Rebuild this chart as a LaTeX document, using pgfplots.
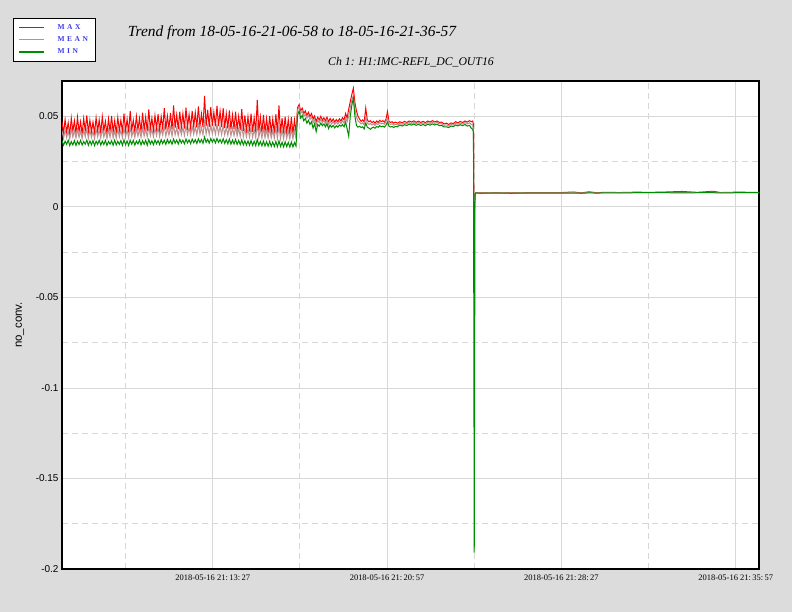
\documentclass[border=0pt]{standalone}
\usepackage{pgfplots}
\pgfplotsset{compat=1.18}
\usepackage{pgfplotstable}
\usepackage{fontspec}
\setmainfont{Liberation Serif}
\setsansfont{Liberation Sans}

\definecolor{bggray}{RGB}{220,220,220}
\definecolor{gridgray}{RGB}{215,215,215}
\definecolor{maxred}{RGB}{255,0,0}
\definecolor{meanbrown}{RGB}{188,143,143}
\definecolor{mingreen}{RGB}{0,140,0}
\definecolor{legblue}{RGB}{60,60,235}

% t = seconds after 21:06:58
\pgfplotstableread{
t max mean min
0 .0470 .0420 .0365
4 .0405 .0378 .0340
8 .0482 .0425 .0362
12 .0412 .0382 .0345
16 .0465 .0418 .0368
20 .0400 .0375 .0338
24 .0490 .0430 .0360
28 .0418 .0385 .0342
32 .0475 .0422 .0366
36 .0408 .0380 .0339
40 .0495 .0428 .0363
44 .0415 .0384 .0344
48 .0470 .0419 .0367
52 .0402 .0376 .0341
56 .0488 .0426 .0361
60 .0420 .0387 .0346
64 .0505 .0432 .0369
68 .0410 .0379 .0340
72 .0478 .0423 .0364
76 .0414 .0383 .0343
80 .0468 .0417 .0366
84 .0406 .0377 .0338
88 .0492 .0429 .0362
92 .0417 .0386 .0345
96 .0480 .0424 .0368
100 .0409 .0380 .0341
104 .0498 .0431 .0363
108 .0419 .0385 .0344
112 .0472 .0420 .0367
116 .0404 .0378 .0339
120 .0486 .0427 .0361
124 .0416 .0384 .0346
128 .0502 .0433 .0365
132 .0411 .0381 .0340
136 .0476 .0421 .0368
140 .0408 .0379 .0342
144 .0494 .0430 .0362
148 .0420 .0386 .0345
152 .0480 .0424 .0366
156 .0412 .0382 .0340
160 .0515 .0436 .0370
164 .0418 .0385 .0343
168 .0484 .0425 .0364
172 .0410 .0380 .0339
176 .0530 .0440 .0368
180 .0422 .0388 .0346
184 .0478 .0422 .0367
188 .0414 .0383 .0341
192 .0500 .0432 .0363
196 .0425 .0390 .0347
200 .0488 .0427 .0369
204 .0416 .0384 .0342
208 .0520 .0438 .0366
212 .0424 .0389 .0345
216 .0496 .0430 .0368
220 .0418 .0386 .0340
224 .0538 .0445 .0372
228 .0428 .0392 .0347
232 .0490 .0428 .0365
236 .0420 .0387 .0343
240 .0505 .0434 .0370
244 .0430 .0393 .0348
248 .0512 .0437 .0366
252 .0422 .0388 .0344
256 .0498 .0431 .0371
260 .0432 .0395 .0349
264 .0545 .0448 .0368
268 .0426 .0390 .0345
272 .0502 .0433 .0372
276 .0434 .0396 .0350
280 .0518 .0440 .0367
284 .0428 .0391 .0346
288 .0560 .0452 .0374
292 .0436 .0397 .0351
296 .0508 .0436 .0369
300 .0430 .0393 .0347
304 .0525 .0442 .0373
308 .0438 .0398 .0352
312 .0515 .0439 .0368
316 .0432 .0394 .0348
320 .0548 .0450 .0375
324 .0440 .0399 .0353
328 .0510 .0437 .0370
332 .0435 .0396 .0349
336 .0530 .0445 .0374
340 .0442 .0400 .0354
344 .0520 .0441 .0371
348 .0438 .0398 .0350
352 .0555 .0455 .0376
356 .0444 .0402 .0355
360 .0512 .0438 .0372
364 .0440 .0399 .0351
368 .0612 .0470 .0385
372 .0446 .0403 .0356
376 .0535 .0447 .0373
380 .0442 .0400 .0352
384 .0550 .0452 .0377
388 .0448 .0404 .0357
392 .0522 .0443 .0374
396 .0444 .0401 .0353
400 .0558 .0456 .0378
404 .0446 .0402 .0356
408 .0528 .0445 .0372
412 .0440 .0399 .0352
416 .0545 .0450 .0376
420 .0436 .0397 .0350
424 .0515 .0439 .0371
428 .0432 .0395 .0348
432 .0532 .0446 .0374
436 .0428 .0392 .0346
440 .0508 .0436 .0369
444 .0430 .0393 .0347
448 .0525 .0443 .0372
452 .0426 .0391 .0345
456 .0500 .0433 .0367
460 .0424 .0389 .0344
464 .0540 .0448 .0370
468 .0420 .0387 .0342
472 .0505 .0434 .0365
476 .0418 .0386 .0341
480 .0498 .0431 .0364
484 .0416 .0385 .0340
488 .0515 .0438 .0366
492 .0414 .0384 .0339
496 .0492 .0428 .0362
500 .0412 .0382 .0338
504 .0590 .0458 .0372
508 .0415 .0384 .0340
512 .0496 .0430 .0361
516 .0410 .0380 .0337
520 .0508 .0435 .0363
524 .0412 .0381 .0336
528 .0488 .0426 .0360
532 .0408 .0379 .0335
536 .0502 .0432 .0362
540 .0410 .0380 .0334
544 .0485 .0424 .0358
548 .0406 .0378 .0333
552 .0512 .0437 .0361
556 .0408 .0379 .0332
560 .0560 .0448 .0364
564 .0405 .0377 .0333
568 .0490 .0427 .0357
572 .0404 .0376 .0331
576 .0498 .0430 .0359
580 .0406 .0378 .0332
584 .0482 .0423 .0356
588 .0402 .0375 .0330
592 .0495 .0429 .0358
596 .0404 .0376 .0331
600 .0480 .0422 .0355
604 .0410 .0380 .0335
608 .0548 .0535 .0505
612 .0565 .0552 .0530
616 .0530 .0515 .0490
620 .0545 .0530 .0505
624 .0515 .0500 .0475
628 .0530 .0512 .0488
632 .0505 .0490 .0462
636 .0522 .0505 .0478
640 .0498 .0482 .0455
644 .0515 .0498 .0470
648 .0485 .0465 .0435
652 .0502 .0485 .0460
656 .0470 .0450 .0415
660 .0495 .0478 .0455
664 .0480 .0465 .0445
668 .0500 .0485 .0462
672 .0478 .0464 .0448
676 .0492 .0478 .0458
680 .0475 .0460 .0442
684 .0495 .0480 .0460
688 .0470 .0455 .0432
692 .0488 .0472 .0452
696 .0472 .0458 .0440
700 .0485 .0470 .0450
704 .0468 .0455 .0436
708 .0482 .0468 .0448
712 .0470 .0457 .0440
716 .0486 .0472 .0452
720 .0474 .0460 .0445
724 .0492 .0476 .0455
728 .0480 .0462 .0442
732 .0515 .0492 .0468
736 .0490 .0470 .0430
740 .0540 .0500 .0390
744 .0580 .0545 .0500
748 .0620 .0590 .0560
752 .0655 .0615 .0600
756 .0575 .0540 .0500
760 .0530 .0495 .0450
764 .0500 .0475 .0440
768 .0485 .0468 .0445
772 .0472 .0458 .0438
776 .0480 .0464 .0442
780 .0468 .0452 .0430
784 .0545 .0495 .0462
788 .0480 .0462 .0440
792 .0470 .0455 .0435
796 .0475 .0460 .0428
800 .0465 .0452 .0436
804 .0472 .0458 .0440
808 .0462 .0450 .0434
812 .0474 .0460 .0444
816 .0466 .0455 .0440
820 .0478 .0465 .0448
824 .0470 .0458 .0442
828 .0476 .0462 .0446
832 .0468 .0456 .0440
836 .0482 .0468 .0450
840 .0525 .0495 .0468
844 .0472 .0460 .0445
848 .0466 .0455 .0441
852 .0470 .0458 .0444
856 .0462 .0451 .0438
860 .0468 .0456 .0443
866 .0462 .0452 .0442
872 .0470 .0461 .0452
878 .0464 .0456 .0446
884 .0472 .0463 .0454
890 .0466 .0458 .0449
896 .0474 .0465 .0457
902 .0468 .0460 .0451
908 .0475 .0466 .0458
914 .0467 .0459 .0450
920 .0473 .0465 .0456
926 .0466 .0458 .0449
932 .0472 .0464 .0455
938 .0465 .0457 .0448
944 .0474 .0466 .0457
950 .0468 .0460 .0451
956 .0476 .0467 .0458
962 .0469 .0461 .0452
968 .0474 .0466 .0457
974 .0466 .0458 .0448
980 .0468 .0459 .0450
986 .0458 .0450 .0441
992 .0462 .0453 .0442
998 .0455 .0447 .0438
1004 .0463 .0455 .0446
1010 .0460 .0452 .0443
1016 .0470 .0461 .0452
1022 .0464 .0456 .0447
1028 .0472 .0463 .0454
1034 .0465 .0457 .0448
1040 .0474 .0465 .0455
1046 .0468 .0458 .0446
1052 .0476 .0464 .0450
1056 .0470 .0456 .0435
1060 .0474 .0452 .0428
1062 .0455 .0425 .0412
1063 .0005 -.0140 -.0795
1064 -.0055 -.0140 -.1910
1066 .0066 .0066 .0066
1068 .0077 .0077 .0077
1080 .0077 .0076 .0075
1120 .0078 .0077 .0076
1160 .0077 .0076 .0075
1200 .0078 .0077 .0076
1240 .0079 .0077 .0076
1280 .0078 .0077 .0076
1320 .0082 .0078 .0076
1340 .0077 .0076 .0075
1360 .0083 .0079 .0077
1380 .0078 .0077 .0076
1400 .0080 .0078 .0077
1440 .0079 .0078 .0077
1480 .0081 .0079 .0078
1520 .0080 .0079 .0078
1560 .0082 .0080 .0078
1600 .0085 .0080 .0077
1640 .0080 .0079 .0078
1680 .0086 .0081 .0078
1700 .0079 .0078 .0077
1740 .0081 .0079 .0078
1799 .0080 .0079 .0078
}\trend

\begin{document}
\begin{tikzpicture}
\fill[bggray] (0,0) rectangle (792bp,612bp);

\begin{axis}[
  at={(62bp,43bp)}, anchor=south west,
  width=697bp, height=488bp, scale only axis,
  axis background/.style={fill=white},
  xmin=0, xmax=1799,
  ymin=-0.2, ymax=0.0695,
  xtick={389,839,1289,1739},
  xticklabels={2018-05-16 21:\,13:\,27, 2018-05-16 21:\,20:\,57, 2018-05-16 21:\,28:\,27, 2018-05-16 21:\,35:\,57},
  minor xtick={164,614,1064,1514},
  ytick={-0.2,-0.15,-0.1,-0.05,0,0.05},
  yticklabels={-0.2,-0.15,-0.1,-0.05,0,0.05},
  minor ytick={-0.175,-0.125,-0.075,-0.025,0.025},
  xticklabel style={font=\fontsize{8.5}{10}\selectfont, yshift=-2bp},
  yticklabel style={font=\sffamily\fontsize{10}{12}\selectfont},
  major tick length=0pt, minor tick length=0pt,
  grid=both,
  major grid style={gridgray, line width=0.8pt},
  minor grid style={gridgray, line width=0.8pt, dash pattern=on 6bp off 4bp},
  axis line style={black, line width=1.2pt},
  ylabel={no\_conv.},
  every axis y label/.style={at={(axis description cs:-0.0603,0.5)}, rotate=90, anchor=center, font=\sffamily\fontsize{11.5}{13}\selectfont},
  legend style={at={(axis description cs:-0.0703,1.1291)}, anchor=north west,
    draw=black, line width=0.8pt, fill=white,
    font=\bfseries\fontsize{7.5}{9}\selectfont, row sep=1.8bp,
    inner xsep=5bp, inner ysep=4bp,
    /tikz/every odd column/.append style={column sep=11bp}},
  legend cell align=left,
  legend image code/.code={\draw[#1, line width=1.3pt] (0bp,0bp) -- (25bp,0bp);},
  clip mode=individual,
]
\addplot[color=maxred, line width=1pt] table[x=t, y=max]{\trend};
\addlegendentry{\textcolor{legblue}{M\,\,A\,\,X}}
\addplot[color=meanbrown, line width=1pt] table[x=t, y=mean]{\trend};
\addlegendentry{\textcolor{legblue}{M\,\,E\,\,A\,\,N}}
\addplot[color=mingreen, line width=1pt] table[x=t, y=min]{\trend};
\addlegendentry{\textcolor{legblue}{M\,\,I\,\,N}}
\end{axis}

\node[font=\itshape\fontsize{15.5}{18}\selectfont] at (292bp,579bp) {Trend from 18-05-16-21-06-58 to 18-05-16-21-36-57};
\node[font=\itshape\fontsize{11.8}{14}\selectfont] at (411bp,550bp) {Ch 1: H1:IMC-REFL\_DC\_OUT16};
\end{tikzpicture}
\end{document}
